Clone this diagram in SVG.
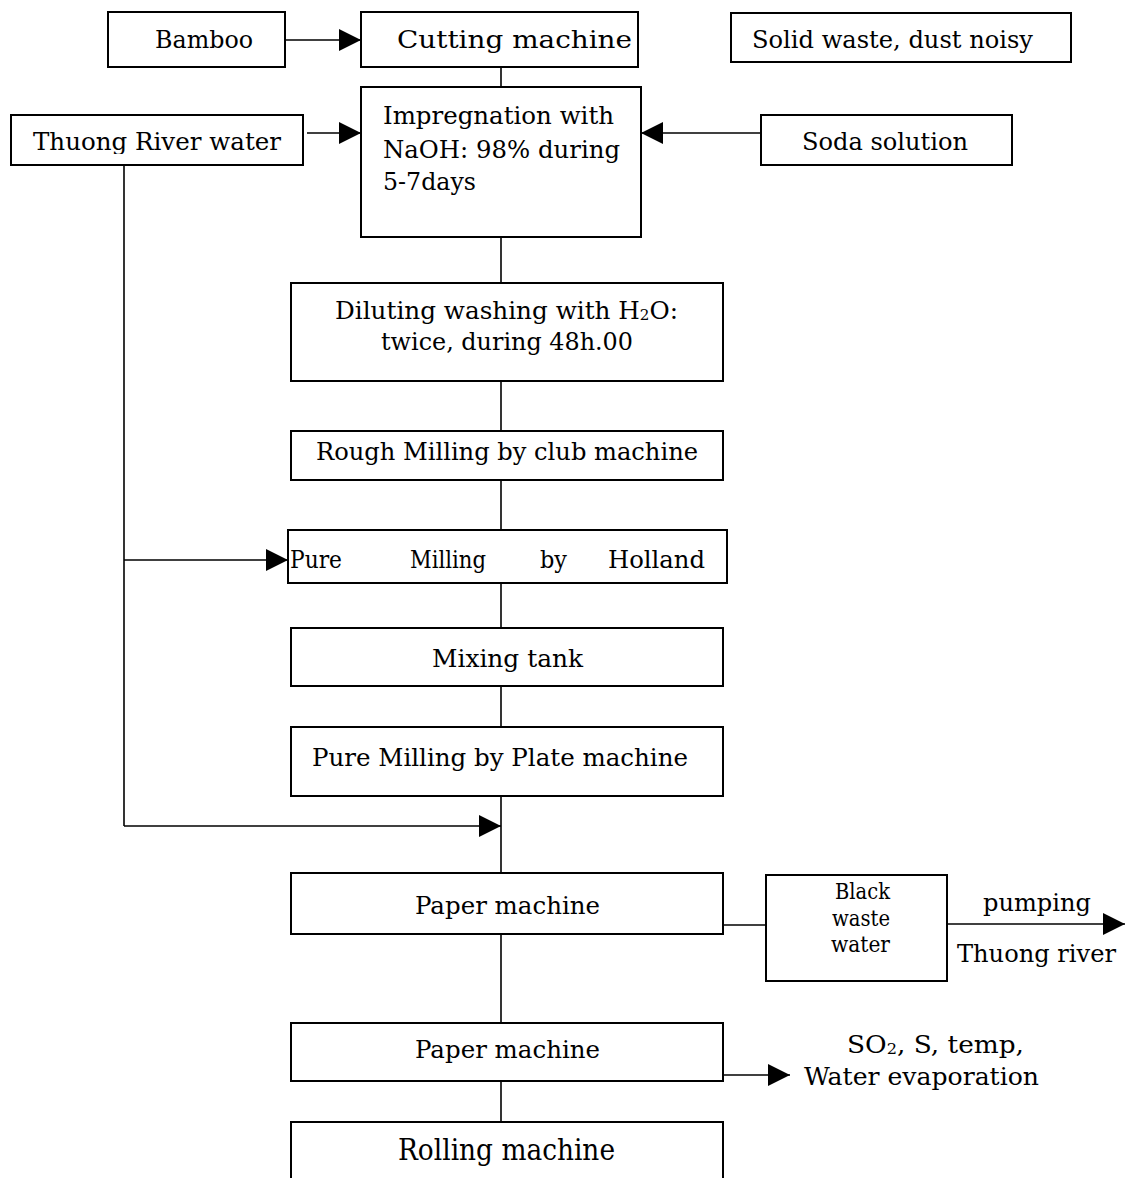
<svg xmlns="http://www.w3.org/2000/svg" width="1125" height="1178" viewBox="0 0 1125 1178">
  <style>
    .box { fill: #fff; stroke: #000; stroke-width: 2; }
    .wire { fill: none; stroke: #000; stroke-width: 1.6; }
    text { font-family: "DejaVu Serif", "Liberation Serif", serif; font-size: 24.5px; fill: #000; }
    .big { font-size: 30px; }
    .tight { font-size: 22.5px; }
    .sub { font-size: 15px; }
  </style>
  <defs>
    <marker id="arrow" markerUnits="userSpaceOnUse" markerWidth="22" markerHeight="22" viewBox="0 0 20 20" refX="20" refY="10" orient="auto">
      <path d="M0,0 L20,10 L0,20 Z" fill="#000"/>
    </marker>
    <!-- clip regions that trim descenders inside the narrow boxes -->
    <clipPath id="clipCut"><rect x="361" y="12" width="278" height="41"/></clipPath>
    <clipPath id="clipSolid"><rect x="731" y="12" width="340" height="41"/></clipPath>
    <clipPath id="clipRiver"><rect x="11" y="115" width="297" height="39"/></clipPath>
    <clipPath id="clipHolland"><rect x="288" y="530" width="440" height="43"/></clipPath>
    <clipPath id="clipOut"><rect x="950" y="930" width="175" height="37"/></clipPath>
  </defs>

  <g id="connectors">
    <line class="wire" x1="285" y1="40" x2="361" y2="40" marker-end="url(#arrow)"/>
    <line class="wire" x1="501" y1="67" x2="501" y2="87"/>
    <line class="wire" x1="307" y1="133" x2="361" y2="133" marker-end="url(#arrow)"/>
    <line class="wire" x1="761" y1="133" x2="641" y2="133" marker-end="url(#arrow)"/>
    <line class="wire" x1="124" y1="164" x2="124" y2="826"/>
    <line class="wire" x1="124" y1="560" x2="288" y2="560" marker-end="url(#arrow)"/>
    <line class="wire" x1="124" y1="826" x2="501" y2="826" marker-end="url(#arrow)"/>
    <line class="wire" x1="501" y1="237" x2="501" y2="283"/>
    <line class="wire" x1="501" y1="381" x2="501" y2="431"/>
    <line class="wire" x1="501" y1="480" x2="501" y2="530"/>
    <line class="wire" x1="501" y1="583" x2="501" y2="628"/>
    <line class="wire" x1="501" y1="686" x2="501" y2="727"/>
    <line class="wire" x1="501" y1="796" x2="501" y2="873"/>
    <line class="wire" x1="723" y1="925" x2="766" y2="925"/>
    <line class="wire" x1="947" y1="924" x2="1125" y2="924" marker-end="url(#arrow)"/>
    <line class="wire" x1="501" y1="934" x2="501" y2="1023"/>
    <line class="wire" x1="723" y1="1075" x2="790" y2="1075" marker-end="url(#arrow)"/>
    <line class="wire" x1="501" y1="1081" x2="501" y2="1122"/>
  </g>

  <g id="bamboo">
    <rect class="box" x="108" y="12" width="177" height="55"/>
    <text x="155" y="48" textLength="98" lengthAdjust="spacingAndGlyphs">Bamboo</text>
  </g>

  <g id="cutting-machine">
    <rect class="box" x="361" y="12" width="277" height="55"/>
    <text x="397" y="48" textLength="235" lengthAdjust="spacingAndGlyphs" clip-path="url(#clipCut)">Cutting machine</text>
  </g>

  <g id="solid-waste">
    <rect class="box" x="731" y="13" width="340" height="49"/>
    <text x="752" y="48" textLength="281" lengthAdjust="spacingAndGlyphs" clip-path="url(#clipSolid)">Solid waste, dust noisy</text>
  </g>

  <g id="river-water">
    <rect class="box" x="11" y="115" width="292" height="50"/>
    <text x="33" y="150" textLength="248" lengthAdjust="spacingAndGlyphs" clip-path="url(#clipRiver)">Thuong River water</text>
  </g>

  <g id="soda-solution">
    <rect class="box" x="761" y="115" width="251" height="50"/>
    <text x="802" y="150" textLength="166" lengthAdjust="spacingAndGlyphs">Soda solution</text>
  </g>

  <g id="impregnation">
    <rect class="box" x="361" y="87" width="280" height="150"/>
    <text x="383" y="124" textLength="231" lengthAdjust="spacingAndGlyphs">Impregnation with</text>
    <text x="383" y="158" textLength="237" lengthAdjust="spacingAndGlyphs">NaOH: 98% during</text>
    <text x="383" y="190" textLength="93" lengthAdjust="spacingAndGlyphs">5-7days</text>
  </g>

  <g id="diluting-washing">
    <rect class="box" x="291" y="283" width="432" height="98"/>
    <text x="335" y="319" textLength="343" lengthAdjust="spacingAndGlyphs">Diluting washing with H<tspan class="sub" dy="1">2</tspan><tspan dy="-1">O:</tspan></text>
    <text x="381" y="350" textLength="252" lengthAdjust="spacingAndGlyphs">twice, during 48h.00</text>
  </g>

  <g id="rough-milling">
    <rect class="box" x="291" y="431" width="432" height="49"/>
    <text x="316" y="460" textLength="382" lengthAdjust="spacingAndGlyphs">Rough Milling by club machine</text>
  </g>

  <g id="holland-milling">
    <rect class="box" x="288" y="530" width="439" height="53"/>
    <g clip-path="url(#clipHolland)">
      <text x="290" y="568" textLength="52" lengthAdjust="spacingAndGlyphs">Pure</text>
      <text x="410" y="568" textLength="76" lengthAdjust="spacingAndGlyphs">Milling</text>
      <text x="540" y="568" textLength="27" lengthAdjust="spacingAndGlyphs">by</text>
      <text x="608" y="568" textLength="97" lengthAdjust="spacingAndGlyphs">Holland</text>
    </g>
  </g>

  <g id="mixing-tank">
    <rect class="box" x="291" y="628" width="432" height="58"/>
    <text x="432" y="667" textLength="151" lengthAdjust="spacingAndGlyphs">Mixing tank</text>
  </g>

  <g id="plate-milling">
    <rect class="box" x="291" y="727" width="432" height="69"/>
    <text x="312" y="766" textLength="376" lengthAdjust="spacingAndGlyphs">Pure Milling by Plate machine</text>
  </g>

  <g id="paper-machine-1">
    <rect class="box" x="291" y="873" width="432" height="61"/>
    <text x="415" y="914" textLength="185" lengthAdjust="spacingAndGlyphs">Paper machine</text>
  </g>

  <g id="black-waste-water">
    <rect class="box" x="766" y="875" width="181" height="106"/>
    <text class="tight" x="835" y="899" textLength="55" lengthAdjust="spacingAndGlyphs">Black</text>
    <text class="tight" x="832" y="926" textLength="58" lengthAdjust="spacingAndGlyphs">waste</text>
    <text class="tight" x="831" y="952" textLength="59" lengthAdjust="spacingAndGlyphs">water</text>
  </g>

  <g id="discharge">
    <text x="983" y="911" textLength="108" lengthAdjust="spacingAndGlyphs">pumping</text>
    <text x="957" y="962" textLength="159" lengthAdjust="spacingAndGlyphs" clip-path="url(#clipOut)">Thuong river</text>
  </g>

  <g id="paper-machine-2">
    <rect class="box" x="291" y="1023" width="432" height="58"/>
    <text x="415" y="1058" textLength="185" lengthAdjust="spacingAndGlyphs">Paper machine</text>
  </g>

  <g id="emissions">
    <text x="847" y="1053" textLength="177" lengthAdjust="spacingAndGlyphs">SO<tspan class="sub" dy="1">2</tspan><tspan dy="-1">, S, temp,</tspan></text>
    <text x="804" y="1085" textLength="235" lengthAdjust="spacingAndGlyphs">Water evaporation</text>
  </g>

  <g id="rolling-machine">
    <rect class="box" x="291" y="1122" width="432" height="70"/>
    <text class="big" x="398" y="1160" textLength="217" lengthAdjust="spacingAndGlyphs">Rolling machine</text>
  </g>
</svg>
